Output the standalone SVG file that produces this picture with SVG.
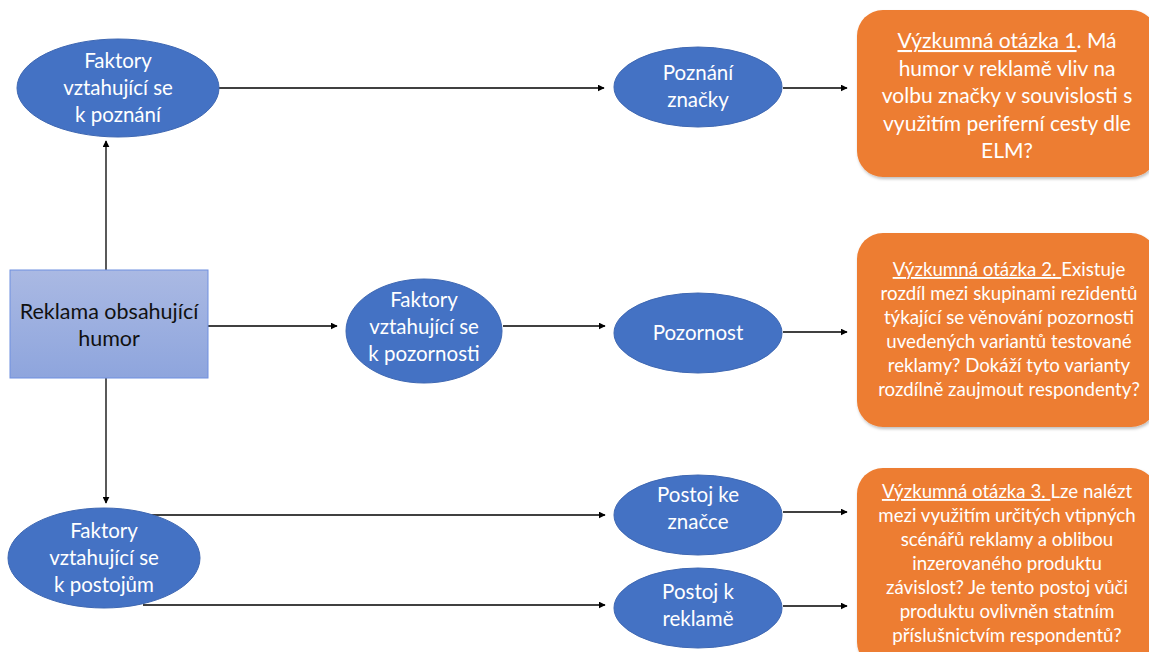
<svg xmlns="http://www.w3.org/2000/svg" width="1149" height="652" viewBox="0 0 1149 652">
<defs>
<linearGradient id="rg" x1="0" y1="0" x2="0" y2="1">
<stop offset="0" stop-color="#AAB9E3"/>
<stop offset="1" stop-color="#8EA5DD"/>
</linearGradient>
<marker id="ah" viewBox="0 0 10 10" refX="9" refY="5" markerWidth="7" markerHeight="7" markerUnits="userSpaceOnUse" orient="auto">
<path d="M0,0 L10,5 L0,10 z" fill="#000"/>
</marker>
<filter id="sh" x="-5%" y="-5%" width="115%" height="115%">
<feDropShadow dx="1" dy="2" stdDeviation="1.5" flood-color="#000" flood-opacity="0.25"/>
</filter>
</defs>
<style>
.el{fill:#4472C4;stroke:#3E67B2;stroke-width:1}
.wt{font-family:Lato,"Open Sans","Liberation Sans",sans-serif;fill:#fff;text-anchor:middle}
.e{font-size:20.5px}
.q{font-size:18.7px}
.q1{font-size:21px}
.ob{fill:#ED7D31;filter:url(#sh)}
.cn{stroke:#000;stroke-width:1.3;fill:none;marker-end:url(#ah)}
.u{text-decoration:underline}
</style>
<rect width="1149" height="652" fill="#fff"/>

<g id="connectors">
<line class="cn" x1="219" y1="88" x2="604" y2="88"/>
<line class="cn" x1="783" y1="88" x2="847" y2="88"/>
<line class="cn" x1="106" y1="270" x2="106" y2="141"/>
<line class="cn" x1="106" y1="378" x2="106" y2="503"/>
<line class="cn" x1="208" y1="326" x2="337" y2="326"/>
<line class="cn" x1="503" y1="326" x2="605" y2="326"/>
<line class="cn" x1="783" y1="332" x2="847" y2="332"/>
<line class="cn" x1="143" y1="515" x2="605" y2="515"/>
<line class="cn" x1="143" y1="605" x2="605" y2="605"/>
<line class="cn" x1="783" y1="512" x2="847" y2="512"/>
<line class="cn" x1="783" y1="606" x2="847" y2="606"/>
</g>

<g id="n-poznani-faktory">
<ellipse class="el" cx="118" cy="88" rx="101" ry="49"/>
<text class="wt e" x="118" y="68">Faktory</text>
<text class="wt e" x="118" y="95">vztahující se</text>
<text class="wt e" x="118" y="122">k poznání</text>
</g>

<g id="n-reklama">
<rect x="10" y="270" width="198" height="108" fill="url(#rg)" stroke="#6F8FE0" stroke-width="1"/>
<text x="109" y="319" font-family="Lato,'Open Sans','Liberation Sans',sans-serif" font-size="21.5" fill="#111" text-anchor="middle">Reklama obsahující</text>
<text x="109" y="346" font-family="Lato,'Open Sans','Liberation Sans',sans-serif" font-size="21.5" fill="#111" text-anchor="middle">humor</text>
</g>

<g id="n-pozornost-faktory">
<ellipse class="el" cx="424" cy="331" rx="78" ry="52"/>
<text class="wt e" x="424" y="307">Faktory</text>
<text class="wt e" x="424" y="334">vztahující se</text>
<text class="wt e" x="424" y="361">k pozornosti</text>
</g>

<g id="n-postoj-faktory">
<ellipse class="el" cx="104" cy="558" rx="96" ry="50"/>
<text class="wt e" x="104" y="538">Faktory</text>
<text class="wt e" x="104" y="565">vztahující se</text>
<text class="wt e" x="104" y="592">k postojům</text>
</g>

<g id="n-poznani-znacky">
<ellipse class="el" cx="698" cy="87" rx="84" ry="40"/>
<text class="wt e" x="698" y="80">Poznání</text>
<text class="wt e" x="698" y="107">značky</text>
</g>

<g id="n-pozornost">
<ellipse class="el" cx="698" cy="333" rx="84" ry="40"/>
<text class="wt e" x="698" y="340">Pozornost</text>
</g>

<g id="n-postoj-znacka">
<ellipse class="el" cx="698" cy="515" rx="84" ry="40"/>
<text class="wt e" x="698" y="502">Postoj ke</text>
<text class="wt e" x="698" y="529">značce</text>
</g>

<g id="n-postoj-reklama">
<ellipse class="el" cx="698" cy="608" rx="84" ry="40"/>
<text class="wt e" x="698" y="599">Postoj k</text>
<text class="wt e" x="698" y="626">reklamě</text>
</g>

<g id="n-otazka1">
<rect class="ob" x="857" y="10" width="300" height="167" rx="26"/>
<text class="wt q1" x="1007" y="48"><tspan class="u">Výzkumná otázka 1</tspan>. Má</text>
<text class="wt q1" x="1007" y="76">humor v reklamě vliv na</text>
<text class="wt q1" x="1007" y="103">volbu značky v souvislosti s</text>
<text class="wt q1" x="1007" y="131">využitím periferní cesty dle</text>
<text class="wt q1" x="1007" y="158">ELM?</text>
</g>

<g id="n-otazka2">
<rect class="ob" x="857" y="233" width="300" height="194" rx="26"/>
<text class="wt q" x="1009" y="276"><tspan class="u">Výzkumná otázka 2. </tspan>Existuje</text>
<text class="wt q" x="1009" y="300">rozdíl mezi skupinami rezidentů</text>
<text class="wt q" x="1009" y="324">týkající se věnování pozornosti</text>
<text class="wt q" x="1009" y="348">uvedených variantů testované</text>
<text class="wt q" x="1009" y="372">reklamy? Dokáží tyto varianty</text>
<text class="wt q" x="1009" y="396">rozdílně zaujmout respondenty?</text>
</g>

<g id="n-otazka3">
<rect class="ob" x="857" y="468" width="300" height="200" rx="26"/>
<text class="wt q" x="1007" y="498"><tspan class="u">Výzkumná otázka 3. </tspan>Lze nalézt</text>
<text class="wt q" x="1007" y="522">mezi využitím určitých vtipných</text>
<text class="wt q" x="1007" y="546">scénářů reklamy a oblibou</text>
<text class="wt q" x="1007" y="570">inzerovaného produktu</text>
<text class="wt q" x="1007" y="594">závislost? Je tento postoj vůči</text>
<text class="wt q" x="1007" y="618">produktu ovlivněn statním</text>
<text class="wt q" x="1007" y="642">příslušnictvím respondentů?</text>
</g>
</svg>
